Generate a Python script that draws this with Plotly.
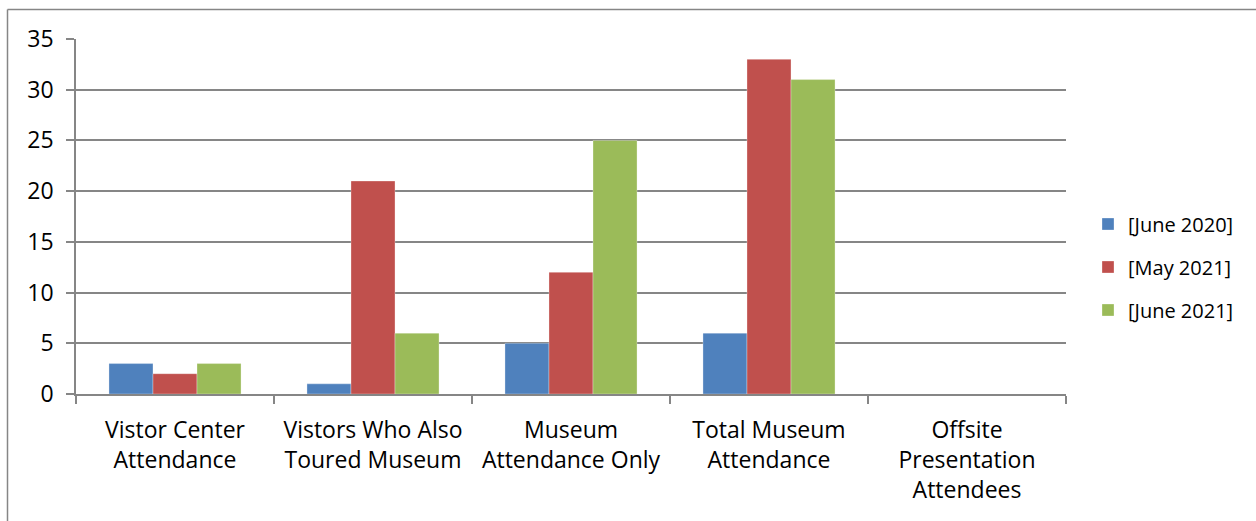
import plotly.graph_objects as go

# Attendance counts per category for each reporting period
categories = [
    "Vistor Center<br>Attendance",
    "Vistors Who Also<br>Toured Museum",
    "Museum<br>Attendance Only",
    "Total Museum<br>Attendance",
    "Offsite<br>Presentation<br>Attendees",
]
june_2020 = [3, 1, 5, 6, 0]
may_2021 = [2, 21, 12, 33, 0]
june_2021 = [3, 6, 25, 31, 0]

series_names = ["[June 2020]", "[May 2021]", "[June 2021]"]
series_values = [june_2020, may_2021, june_2021]
series_colors = ["#4F81BD", "#C0504D", "#9BBB59"]

W, H = 1256, 521
L, R, T, B = 76, 190, 39, 127
plot_w = W - L - R
plot_h = H - T - B

FONT = "Open Sans"
GRID = "#868686"

fig = go.Figure()
for i, (name, vals, col) in enumerate(zip(series_names, series_values, series_colors)):
    fig.add_trace(go.Bar(
        x=categories, y=vals, name=name,
        marker=dict(color=col, line=dict(color="rgba(255,255,255,0.6)", width=0.5)),
        legendgroup=f"g{i}",
    ))


def px_x(p):
    return (p - L) / plot_w


def px_y(p):
    return (H - B - p) / plot_h


# Outer chart border (top and left edges)
fig.add_shape(type="line", xref="paper", yref="paper",
              x0=px_x(7.5), x1=px_x(1270), y0=px_y(9.5), y1=px_y(9.5),
              line=dict(color=GRID, width=1.5))
fig.add_shape(type="line", xref="paper", yref="paper",
              x0=px_x(7.5), x1=px_x(7.5), y0=px_y(9.5), y1=px_y(540),
              line=dict(color=GRID, width=1.5))

fig.update_layout(
    width=W, height=H,
    margin=dict(l=L, r=R, t=T, b=B, autoexpand=False),
    paper_bgcolor="white", plot_bgcolor="white",
    font=dict(family=FONT, color="#000000"),
    barmode="group", bargap=0.333, bargroupgap=0,
    showlegend=True,
    legend=dict(
        x=px_x(1088), xanchor="left", y=px_y(267), yanchor="middle",
        font=dict(size=20, family=FONT), tracegroupgap=14,
        traceorder="grouped", bgcolor="rgba(0,0,0,0)",
    ),
    xaxis=dict(
        tickson="boundaries", ticks="outside", ticklen=8, tickcolor=GRID, tickwidth=1.5,
        showline=True, linecolor=GRID, linewidth=1.5,
        showgrid=False, tickfont=dict(size=23, family=FONT), ticklabelstandoff=15,
    ),
    yaxis=dict(
        range=[0, 35], dtick=5, ticks="outside", ticklen=8, tickcolor=GRID, tickwidth=1.5,
        showline=True, linecolor=GRID, linewidth=1.5,
        showgrid=True, gridcolor=GRID, gridwidth=1.5, zeroline=False,
        tickfont=dict(size=23, family=FONT), ticklabelstandoff=8,
    ),
)

fig.write_html("out.html")
